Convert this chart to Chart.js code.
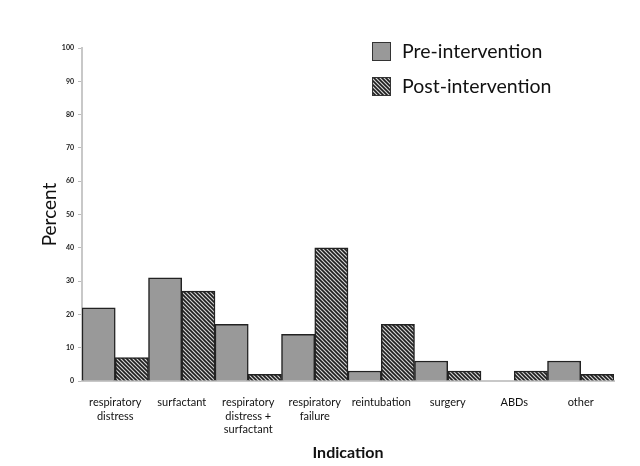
<!DOCTYPE html>
<html>
<head>
<meta charset="utf-8">
<script src="https://cdn.jsdelivr.net/npm/chart.js@4.4.0/dist/chart.umd.min.js"></script>
<style>
  html, body { margin: 0; padding: 0; background: #fff; }
  #wrap { width: 640px; height: 466px; position: relative; }
</style>
</head>
<body>
<div id="wrap"><canvas id="indicationChart" width="640" height="466"></canvas></div>
<script>
// --- Data ---
var categories = [
    ['respiratory', 'distress'],
    'surfactant',
    ['respiratory', 'distress +', 'surfactant'],
    ['respiratory', 'failure'],
    'reintubation',
    'surgery',
    'ABDs',
    'other'
];
var preIntervention = [22, 31, 17, 14, 3, 6, 0, 6];
var postIntervention = [7, 27, 2, 40, 17, 3, 3, 2];
var yTicks = [0, 10, 20, 30, 40, 50, 60, 70, 80, 90, 100];
var seriesNames = ['Pre-intervention', 'Post-intervention'];

var FONT = 'Lato, "Open Sans", sans-serif';

// --- Hatch pattern for post-intervention bars ---
function makeHatch() {
    var c = document.createElement('canvas');
    c.width = 4; c.height = 4;
    var g = c.getContext('2d');
    g.fillStyle = '#d4d4d4';
    g.fillRect(0, 0, 4, 4);
    g.strokeStyle = '#1e1e1e';
    g.lineWidth = 1.6;
    g.beginPath();
    g.moveTo(-1, -1); g.lineTo(5, 5);
    g.moveTo(-1, 3); g.lineTo(1, 5);
    g.moveTo(3, -1); g.lineTo(5, 1);
    g.stroke();
    return g.createPattern(c, 'repeat');
}

var ctx = document.getElementById('indicationChart').getContext('2d');
var hatch = makeHatch();
var preColor = '#999999';

// --- Custom legend drawn in the top right of the plot ---
var boxLegend = {
    id: 'boxLegend',
    afterDraw: function(chart) {
        var g = chart.ctx;
        var a = chart.chartArea;
        var x = a.left + 290, y = a.top - 6;
        var fills = [preColor, hatch];
        g.save();
        g.font = '19.5px ' + FONT;
        g.textBaseline = 'middle';
        for (var i = 0; i < 2; i++) {
            var by = y + i * 35;
            g.fillStyle = fills[i];
            g.fillRect(x, by, 19, 19);
            g.strokeStyle = '#333';
            g.lineWidth = 1;
            g.strokeRect(x + 0.5, by + 0.5, 18, 18);
            g.fillStyle = '#111';
            g.fillText(seriesNames[i], x + 30, by + 10);
        }
        g.restore();
    }
};

var chart = new Chart(ctx, {
    type: 'bar',
    data: {
        labels: categories,
        datasets: [{
            label: seriesNames[0],
            data: preIntervention,
            backgroundColor: preColor,
            borderColor: '#222',
            borderWidth: 1.5,
            barPercentage: 1,
            categoryPercentage: 1
        }, {
            label: seriesNames[1],
            data: postIntervention,
            backgroundColor: hatch,
            borderColor: '#222',
            borderWidth: 1.5,
            barPercentage: 1,
            categoryPercentage: 1
        }]
    },
    options: {
        responsive: false,
        animation: false,
        layout: { padding: { top: 48, right: 26, left: 0, bottom: 0 } },
        plugins: {
            legend: { display: false },
            tooltip: { enabled: false }
        },
        scales: {
            x: {
                grid: { display: false },
                border: { color: '#c8c8c8', width: 2 },
                ticks: {
                    color: '#111',
                    font: { family: FONT, size: 11, lineHeight: 1.27 },
                    maxRotation: 0,
                    autoSkip: false,
                    padding: 6
                },
                title: {
                    display: true,
                    text: 'Indication',
                    color: '#111',
                    font: { family: FONT, size: 16, weight: 'bold' },
                    padding: { top: 14 }
                },
                afterFit: function(scale) { scale.height = 466 - 381; }
            },
            y: {
                min: 0,
                max: 100,
                afterBuildTicks: function(scale) {
                    scale.ticks = yTicks.map(function(v) { return { value: v }; });
                },
                grid: { drawOnChartArea: false, drawTicks: true, tickLength: 4, color: '#bbb' },
                border: { color: '#c8c8c8', width: 2 },
                ticks: {
                    color: '#222',
                    font: { family: FONT, size: 7, weight: 'bold' },
                    padding: 4
                },
                title: {
                    display: true,
                    text: 'Percent',
                    color: '#111',
                    font: { family: FONT, size: 19 },
                    padding: { top: 38, bottom: 0 }
                },
                afterFit: function(scale) { scale.width = 82; }
            }
        }
    },
    plugins: [boxLegend]
});
</script>
</body>
</html>
